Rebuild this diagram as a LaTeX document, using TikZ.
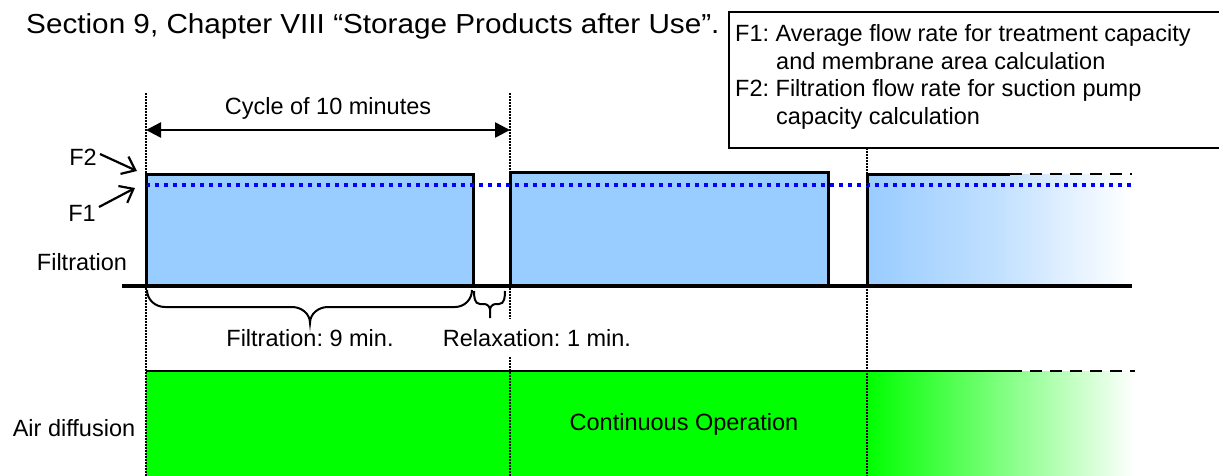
\documentclass[tikz,border=0pt]{standalone}
\usepackage{fontspec}
\setmainfont{Liberation Sans}
\usetikzlibrary{arrows.meta}
\definecolor{fblue}{RGB}{153,204,255}
\definecolor{agreen}{RGB}{0,255,0}
\definecolor{dblue}{RGB}{0,0,255}
\frenchspacing
\begin{document}
\begin{tikzpicture}[x=1pt,y=-1pt,
  lbl/.style={font=\fontsize{23.5}{27}\selectfont, inner sep=0pt},
  ttl/.style={font=\fontsize{27.5}{31}\selectfont, inner sep=0pt, xscale=1.08},
  blk/.style={draw=black, line width=3pt, fill=fblue},
  vdot/.style={line width=1.3pt, dash pattern=on 1.5pt off 1.5pt},
  bdot/.style={dblue, line width=4pt, dash pattern=on 4pt off 5pt},
  dash line/.style={line width=2.5pt, dash pattern=on 12pt off 8pt},
  base/.style={line width=4.5pt},
  farrow/.style={line width=2.2pt, -{Straight Barb[length=12pt,width=19pt,line width=2.2pt]}},
  cyc/.style={line width=2.5pt, {Triangle[length=15pt,width=15pt]}-{Triangle[length=15pt,width=15pt]}},
  bracepath/.style={line width=2pt}
]
\useasboundingbox (0,0) rectangle (1219,475);

% title
\node[ttl, anchor=base west] (title) at (26,33) {Section 9, Chapter VIII “Storage Products after Use”.};

% legend box
\draw[line width=2pt] (1225,12) -- (729,12) -- (729,148) -- (1225,148);
\node[lbl, anchor=base west] (l1) at (735,41) {F1: Average flow rate for treatment capacity};
\node[lbl, anchor=base west] (l2) at (776,69) {and membrane area calculation};
\node[lbl, anchor=base west] (l3) at (735,96) {F2: Filtration flow rate for suction pump};
\node[lbl, anchor=base west] (l4) at (776,124) {capacity calculation};

% filtration blocks
\draw[blk] (146,286) -- (146,174) -- (473,174) -- (473,286);
\draw[blk] (510,286) -- (510,172) -- (828,172) -- (828,286);
\shade[left color=fblue, right color=white, middle color=fblue!60] (867,174) rectangle (1132,286);
\draw[line width=3pt] (867,286) -- (867,174) -- (1010,174);
\draw[dash line] (1010,174) -- (1132,174);

% air diffusion
\fill[agreen] (146,371) rectangle (867,476);
\shade[left color=agreen, right color=white] (867,371) rectangle (1135,476);
\draw[line width=2.5pt] (146,371) -- (1010,371);
\draw[dash line] (1010,371) -- (1135,371);

% blue dotted F1 line
\coordinate (f1a) at (146,185);
\coordinate (f1b) at (1132,185);
\draw[bdot] (f1a) -- (f1b);

% base line
\coordinate (ba) at (122,286);
\coordinate (bb) at (1132,286);
\draw[base] (ba) -- (bb);

% vertical dotted lines
\draw[vdot] (146,93) -- (146,476);
\draw[vdot] (510,93) -- (510,476);
\draw[vdot] (867,148) -- (867,476);

% cycle arrow
\coordinate (ca) at (146,130);
\coordinate (cb) at (510,130);
\draw[cyc] (ca) -- (cb);
\node[lbl] (cycle) at (328,108) {Cycle of 10 minutes};

% F labels
\node[lbl] (F2) at (83,157) {F2};
\node[lbl] (F1) at (82,213) {F1};
\coordinate (F2t) at (137,171);
\coordinate (F1t) at (135,188);
\coordinate (F2s) at (100,154);
\coordinate (F1s) at (99,207);
\draw[farrow] (F2s) -- (F2t);
\draw[farrow] (F1s) -- (F1t);

\node[lbl] (filt) at (82,262) {Filtration};

% braces (drawn by hand)
\coordinate (b1a) at (147,290);
\coordinate (b1b) at (472,290);
\coordinate (b1tip) at (310,323);
\draw[bracepath] (b1a) to[out=-90,in=180] (165,307) -- (292,307)
  to[out=0,in=90] (b1tip) to[out=90,in=180] (328,307) -- (455,307)
  to[out=0,in=-90] (b1b);
\coordinate (b2a) at (474,291);
\coordinate (b2b) at (505,291);
\coordinate (b2tip) at (490,318);
\draw[bracepath] (b2a) to[out=-90,in=180] (480,304) -- (484,304)
  to[out=0,in=90] (490,310) -- (b2tip);
\draw[bracepath] (490,310) to[out=90,in=180] (496,304) -- (499,304)
  to[out=0,in=-90] (b2b);

\node[lbl] (f9) at (310,338) {Filtration: 9 min.};
\node[lbl, fill=white, inner xsep=2pt, inner ysep=10pt] (r1) at (537,338) {Relaxation: 1 min.};

\node[lbl] (air) at (74,428) {Air diffusion};
\node[lbl] (cont) at (684,424) {Continuous Operation};
\end{tikzpicture}
\end{document}
